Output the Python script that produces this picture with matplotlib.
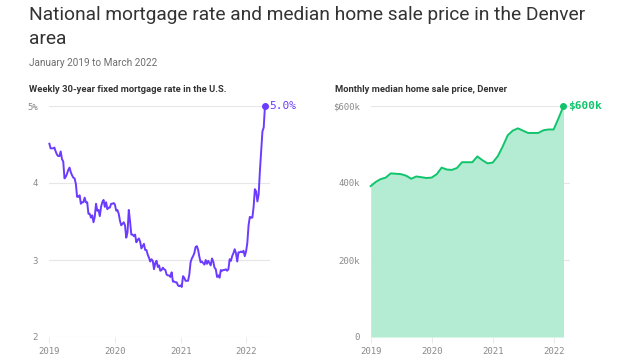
import numpy as np
import pandas as pd
import matplotlib
matplotlib.use("Agg")
import matplotlib.pyplot as plt
import matplotlib.dates as mdates

# 每周 30 年期固定抵押贷款利率 (%)，2019-01-03 起每周一个点
rate_2019 = [4.51, 4.45, 4.45, 4.45, 4.46, 4.41, 4.37, 4.35, 4.35, 4.41, 4.31, 4.28, 4.06,
             4.08, 4.12, 4.17, 4.20, 4.14, 4.10, 4.07, 4.06, 3.99, 3.82, 3.82, 3.84, 3.73,
             3.75, 3.75, 3.81, 3.75, 3.75, 3.60, 3.60, 3.55, 3.58, 3.49, 3.56, 3.73, 3.64,
             3.65, 3.57, 3.69, 3.75, 3.78, 3.69, 3.75, 3.66, 3.68, 3.68, 3.73, 3.73, 3.74]
rate_2020 = [3.72, 3.64, 3.65, 3.60, 3.51, 3.45, 3.47, 3.49, 3.45, 3.29, 3.36, 3.65, 3.50,
             3.33, 3.33, 3.31, 3.33, 3.23, 3.26, 3.28, 3.24, 3.15, 3.18, 3.21, 3.13, 3.13,
             3.07, 3.03, 2.98, 3.01, 2.99, 2.88, 2.96, 2.99, 2.91, 2.93, 2.86, 2.87, 2.90,
             2.88, 2.87, 2.81, 2.80, 2.80, 2.78, 2.84, 2.72, 2.72, 2.71, 2.71, 2.67, 2.66, 2.67]
rate_2021 = [2.65, 2.79, 2.77, 2.73, 2.73, 2.73, 2.81, 2.97, 3.02, 3.05, 3.09, 3.17,
             3.18, 3.13, 3.04, 2.97, 2.98, 2.96, 2.94, 3.00, 2.95, 2.99, 2.96, 2.93, 3.02,
             2.98, 2.90, 2.88, 2.78, 2.80, 2.77, 2.87, 2.86, 2.87, 2.87, 2.88, 2.86, 2.88, 3.01,
             2.99, 3.05, 3.09, 3.14, 3.09, 2.98, 3.10, 3.10, 3.11, 3.10, 3.12, 3.05, 3.11]
rate_2022 = [3.22, 3.45, 3.56, 3.55, 3.55, 3.69, 3.92, 3.89, 3.76, 3.85, 4.16, 4.42,
             4.67, 4.72, 5.00]
rates = rate_2019 + rate_2020 + rate_2021 + rate_2022
rate_dates = pd.date_range("2019-01-03", periods=len(rates), freq="7D")

# 丹佛每月房屋销售价格中位数 (千美元)，2019-01 至 2022-03
price = [392, 403, 410, 414, 425, 424, 423, 419, 411, 417, 415, 413,
         414, 423, 440, 435, 434, 439, 454, 454, 454, 469, 459, 451,
         453, 470, 494, 524, 536, 542, 536, 530, 530, 530, 537, 539,
         539, 570, 600]
price_dates = pd.date_range("2019-01-01", periods=len(price), freq="MS")

purple = "#6b3cff"
green = "#10c46c"
fill = "#b3ecd3"
grid = "#e6e6e6"
tick_col = "#8a8a8a"
text_col = "#333333"
mono = "DejaVu Sans Mono"

plt.rcParams["font.family"] = ["Roboto", "DejaVu Sans"]

fig = plt.figure(figsize=(6.4, 3.6), dpi=100)


def fy(px):
    return 1 - px / 360


# 标题和副标题
t1 = fig.text(29 / 640, fy(19.5), "National mortgage rate and median home sale price in the Denver",
              fontsize=14, color=text_col, va="baseline")
t2 = fig.text(29 / 640, fy(43.5), "area", fontsize=14, color=text_col, va="baseline")
t3 = fig.text(29 / 640, fy(63.5), "January 2019 to March 2022", fontsize=7.5, color="#6e6e6e", va="center")
t4 = fig.text(29 / 640, fy(90), "Weekly 30-year fixed mortgage rate in the U.S.",
              fontsize=7, fontweight="bold", color=text_col, va="center")
t5 = fig.text(335 / 640, fy(90), "Monthly median home sale price, Denver",
              fontsize=7, fontweight="bold", color=text_col, va="center")

# 按参考图中文本宽度调整字号
r = fig.canvas.get_renderer()
for t, w, others in [(t1, 559, [t2]), (t3, 128, []), (t4, 197, [t5])]:
    k = w / t.get_window_extent(r).width
    for tt in [t] + others:
        tt.set_fontsize(tt.get_fontsize() * k)

bottom = (360 - 337) / 360
height = (337 - 106) / 360
ax1 = fig.add_axes([49 / 640, bottom, 221 / 640, height])
ax2 = fig.add_axes([370.7 / 640, bottom, 199.3 / 640, height])


def style(ax):
    for s in ax.spines.values():
        s.set_visible(False)
    ax.grid(axis="y", color=grid, linewidth=0.8)
    ax.set_axisbelow(True)
    ax.tick_params(axis="y", length=0, pad=8, labelsize=6.5, labelcolor=tick_col)
    ax.tick_params(axis="x", length=4, width=0.6, color=grid, pad=3, labelsize=6.5, labelcolor=tick_col)
    ax.xaxis.set_major_locator(mdates.YearLocator())
    ax.xaxis.set_major_formatter(mdates.DateFormatter("%Y"))
    for lab in ax.get_xticklabels() + ax.get_yticklabels():
        lab.set_fontfamily(mono)


# 左图：抵押贷款利率
ax1.plot(rate_dates, rates, color=purple, linewidth=1.4, solid_joinstyle="round", clip_on=False)
ax1.plot(rate_dates[-1], rates[-1], "o", color=purple, markersize=4, clip_on=False)
ax1.text(rate_dates[-1] + pd.Timedelta(days=25), rates[-1], f"{rates[-1]:.1f}%",
         color=purple, fontsize=8, family=mono, va="center")
ax1.set_xlim(pd.Timestamp("2019-01-01"), pd.Timestamp("2019-01-01") + pd.Timedelta(days=int(3.36 * 365.25)))
ax1.set_ylim(2, 5)
ax1.set_yticks([2, 3, 4, 5])
ax1.set_yticklabels(["2", "3", "4", "5%"])
style(ax1)

# 右图：房价中位数
ax2.fill_between(price_dates, price, 0, color=fill, linewidth=0)
ax2.plot(price_dates, price, color=green, linewidth=1.4, clip_on=False)
ax2.plot(price_dates[-1], price[-1], "o", color=green, markersize=4, clip_on=False)
ax2.text(price_dates[-1] + pd.Timedelta(days=25), price[-1], f"${price[-1]}k",
         color=green, fontsize=8, family=mono, fontweight="bold", va="center")
ax2.set_xlim(pd.Timestamp("2019-01-01"), pd.Timestamp("2019-01-01") + pd.Timedelta(days=int(3.27 * 365.25)))
ax2.set_ylim(0, 600)
ax2.set_yticks([0, 200, 400, 600])
ax2.set_yticklabels(["0", "200k", "400k", "$600k"])
style(ax2)

fig.savefig("out.png", dpi=100)
